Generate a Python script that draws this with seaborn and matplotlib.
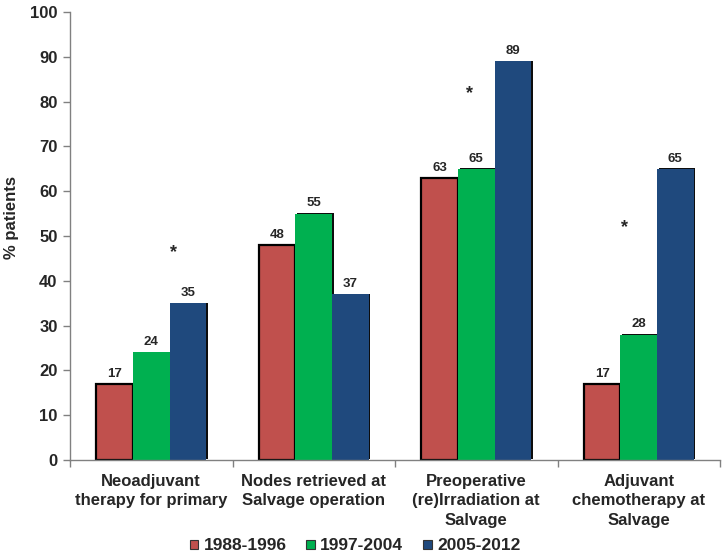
import matplotlib
matplotlib.use("Agg")
import matplotlib.pyplot as plt
import matplotlib.patheffects as pe
from matplotlib.patches import Patch
import seaborn as sns
import pandas as pd

categories = ["Neoadjuvant\ntherapy for primary",
              "Nodes retrieved at\nSalvage operation",
              "Preoperative\n(re)Irradiation at\nSalvage",
              "Adjuvant\nchemotherapy at\nSalvage"]
periods = ["1988-1996", "1997-2004", "2005-2012"]
v_1988_1996 = [17, 48, 63, 17]
v_1997_2004 = [24, 55, 65, 28]
v_2005_2012 = [35, 37, 89, 65]
colors = ["#C0504D", "#00B050", "#1F497D"]
# significance markers: (x position in category units, y value)
star_x = [0.135, 1.957, 2.914]
star_y = [46.3, 81.8, 51.8]

rows = []
for per, vals in zip(periods, [v_1988_1996, v_1997_2004, v_2005_2012]):
    for c, v in zip(categories, vals):
        rows.append({"category": c, "period": per, "value": v})
df = pd.DataFrame(rows)

sns.set_style("white")
plt.rcParams['font.family'] = ['Liberation Sans', 'DejaVu Sans']
plt.rcParams['font.weight'] = 'bold'

fig = plt.figure(figsize=(7.26, 5.57), dpi=100)
ax = fig.add_axes([70/726, 97/557, 650/726, 448/557])

sns.barplot(data=df, x="category", y="value", hue="period", order=categories,
            hue_order=periods, palette=colors, width=0.675, gap=0,
            saturation=1, ax=ax, legend=False, errorbar=None)

for i, cont in enumerate(ax.containers):
    for p in cont.patches:
        if i == 0:
            p.set_edgecolor("black")
            p.set_linewidth(1.6)
        else:
            p.set_edgecolor("none")
        p.set_path_effects([pe.SimplePatchShadow(offset=(1.3, 0.4), shadow_rgbFace="black", alpha=0.95),
                            pe.Normal()])
    ax.bar_label(cont, padding=3, fontsize=9.5, fontweight='bold')

for x, y in zip(star_x, star_y):
    ax.text(x, y, "*", ha="center", va="center", fontsize=13, fontweight='bold')

ax.set_ylim(0, 100)
ax.set_xlim(-0.5, 3.5)
ax.set_yticks(range(0, 101, 10))
ax.set_xticks(range(len(categories)))
ax.set_xticklabels(categories, fontsize=12, fontweight='bold', linespacing=1.36)
ax.set_xticks([-0.5, 0.5, 1.5, 2.5, 3.5], minor=True)
ax.tick_params(axis='x', which='major', length=0, pad=10)
ax.tick_params(axis='x', which='minor', length=5, color='#808080', width=1, direction='out', bottom=True)
ax.tick_params(axis='y', length=5, color='#808080', width=1, direction='out', left=True, labelsize=12, pad=4)
for lab in ax.get_yticklabels():
    lab.set_fontweight('bold')
ax.set_xlabel("")
ax.set_ylabel("% patients", fontsize=12, fontweight='bold')
ax.yaxis.set_label_coords(-51/650, 0.542)
for s in ["top", "right"]:
    ax.spines[s].set_visible(False)
for s in ["left", "bottom"]:
    ax.spines[s].set_color('#808080')
    ax.spines[s].set_linewidth(1)

handles = [Patch(facecolor=c, edgecolor='#333333', linewidth=0.8) for c in colors]
fig.legend(handles, periods, loc='center', bbox_to_anchor=(0.489, 0.02), ncol=3, frameon=False,
           prop={'size': 12.5, 'weight': 'bold'}, handlelength=0.5, handleheight=0.45,
           handletextpad=0.3, columnspacing=1.15, borderpad=0, borderaxespad=0)

fig.savefig("out.png", dpi=100)
